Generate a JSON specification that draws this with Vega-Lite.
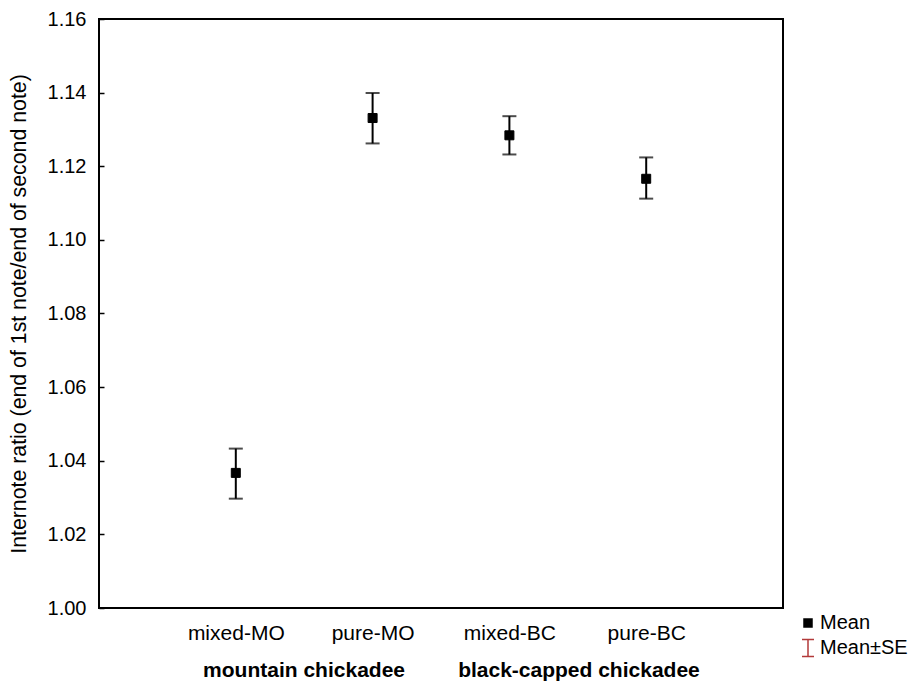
{
  "$schema": "https://vega.github.io/schema/vega-lite/v6.json",
  "width": 684,
  "height": 589,
  "autosize": {"type": "none"},
  "padding": {"left": 99, "top": 19, "right": 129, "bottom": 73},
  "background": "white",
  "config": {
    "font": "Liberation Sans",
    "view": {"stroke": "black", "strokeWidth": 2},
    "axis": {"grid": false, "labelFont": "Liberation Sans", "titleFont": "Liberation Sans", "labelColor": "black", "titleColor": "black", "labelFontSize": 20, "titleFontSize": 21.3, "titleFontWeight": "normal", "labelLimit": 0},
    "legend": {"labelFont": "Liberation Sans", "labelFontSize": 20, "labelColor": "black", "labelLimit": 0}
  },
  "datasets": {
    "stats": [
      {"category": "mixed-MO", "species": "mountain chickadee", "mean": 1.0367, "lo": 1.0297, "hi": 1.0433, "stat": "Mean"},
      {"category": "pure-MO", "species": "mountain chickadee", "mean": 1.1331, "lo": 1.1262, "hi": 1.1399, "stat": "Mean"},
      {"category": "mixed-BC", "species": "black-capped chickadee", "mean": 1.1284, "lo": 1.1232, "hi": 1.1336, "stat": "Mean"},
      {"category": "pure-BC", "species": "black-capped chickadee", "mean": 1.1166, "lo": 1.1112, "hi": 1.1224, "stat": "Mean"}
    ],
    "groups": [
      {"species": "mountain chickadee"},
      {"species": "black-capped chickadee"}
    ]
  },
  "layer": [
    {
      "data": {"name": "stats"},
      "layer": [
        {
          "mark": {"type": "rule", "color": "black", "strokeWidth": 2},
          "encoding": {
            "x": {"field": "category", "type": "nominal", "sort": null,
              "scale": {"type": "point", "padding": 1},
              "axis": {"title": null, "labelAngle": 0, "ticks": false, "domain": false, "labelPadding": 14, "labelFontSize": 21}},
            "y": {"field": "lo", "type": "quantitative",
              "scale": {"domain": [1.0, 1.16], "nice": false, "zero": false},
              "axis": {"title": "Internote ratio (end of 1st note/end of second note)", "values": [1.0, 1.02, 1.04, 1.06, 1.08, 1.1, 1.12, 1.14, 1.16], "format": ".2f", "tickSize": -5, "tickColor": "black", "tickWidth": 1.5, "domain": false, "labelPadding": 18, "titlePadding": 18}},
            "y2": {"field": "hi"}
          }
        },
        {
          "mark": {"type": "tick", "color": "black", "thickness": 2, "size": 14, "orient": "horizontal"},
          "encoding": {
            "x": {"field": "category", "type": "nominal", "sort": null},
            "y": {"field": "lo", "type": "quantitative"}
          }
        },
        {
          "mark": {"type": "tick", "color": "black", "thickness": 2, "size": 14, "orient": "horizontal"},
          "encoding": {
            "x": {"field": "category", "type": "nominal", "sort": null},
            "y": {"field": "hi", "type": "quantitative"}
          }
        },
        {
          "mark": {"type": "point", "size": 81, "strokeWidth": 1, "opacity": 1},
          "encoding": {
            "x": {"field": "category", "type": "nominal", "sort": null},
            "y": {"field": "mean", "type": "quantitative"},
            "shape": {"field": "stat", "type": "nominal",
              "scale": {"domain": ["Mean", "Mean±SE"], "range": ["square", "M-1.5,-2.1H1.5M0,-2.1V2.1M-1.5,2.1H1.5"]},
              "legend": {"title": null, "orient": "none", "legendX": 699, "legendY": 594, "symbolSize": 64, "symbolStrokeWidth": 1.5, "rowPadding": 3, "labelOffset": 2}},
            "fill": {"field": "stat", "type": "nominal",
              "scale": {"domain": ["Mean", "Mean±SE"], "range": ["black", "transparent"]}},
            "stroke": {"field": "stat", "type": "nominal",
              "scale": {"domain": ["Mean", "Mean±SE"], "range": ["black", "#b23a3a"]}}
          }
        }
      ]
    },
    {
      "data": {"name": "groups"},
      "mark": {"type": "text", "text": ""},
      "encoding": {
        "x": {"field": "species", "type": "nominal", "sort": null,
          "scale": {"type": "point", "padding": 0.744},
          "axis": {"title": null, "orient": "bottom", "labelAngle": 0, "ticks": false, "domain": false, "labelPadding": 51, "labelFontWeight": "bold", "labelFontSize": 21, "labelLimit": 0}}
      }
    }
  ],
  "resolve": {"scale": {"x": "independent"}, "axis": {"x": "independent"}}
}
